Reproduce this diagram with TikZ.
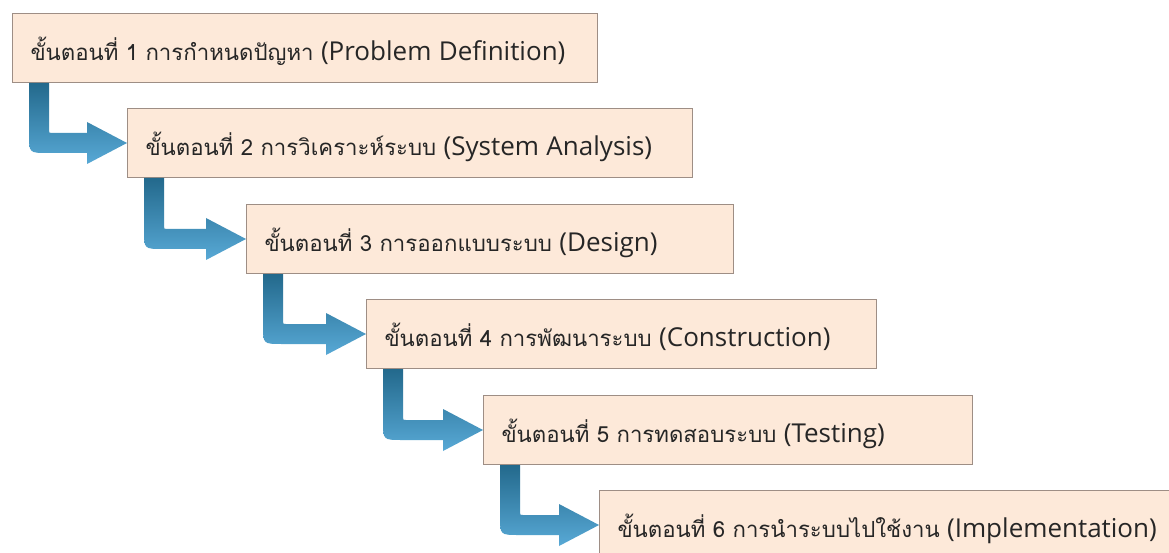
\documentclass[tikz,border=0pt]{standalone}
\usepackage{fontspec}
\setmainfont[Script=Thai]{Loma}
\newfontfamily\latinfont{Open Sans}
\usetikzlibrary{calc}
\definecolor{boxfill}{HTML}{FDE9D9}
\definecolor{boxline}{HTML}{9E8E85}
\definecolor{textcol}{HTML}{262626}
\definecolor{arrowtop}{HTML}{23698C}
\definecolor{arrowbot}{HTML}{58A9D6}
\newcommand{\lat}[1]{{\latinfont\fontsize{26}{30}\selectfont #1}}
\tikzset{
  stepbox/.style={draw=boxline, fill=boxfill, line width=1pt, anchor=north west,
    minimum height=69pt, inner xsep=18pt, inner ysep=0pt, align=left,
    text height=27pt, text depth=2pt, text=textcol,
    font=\fontsize{22.2}{30}\selectfont},
  bentarrow/.style={top color=arrowtop, bottom color=arrowbot, draw=none}
}
\newcommand{\bentarrow}[2]{%
  \path[bentarrow] let \p1=(#1.south west), \p2=(#2.west) in
    (\x1+17pt,\y1) -- (\x1+37pt,\y1) -- (\x1+37pt,\y2+13pt)
    .. controls (\x1+37pt,\y2+10pt) .. (\x1+40pt,\y2+10pt)
    -- (\x2-40pt,\y2+10pt) -- (\x2-40pt,\y2+21pt) -- (\x2,\y2)
    -- (\x2-40pt,\y2-21pt) -- (\x2-40pt,\y2-10pt) -- (\x1+36pt,\y2-10pt)
    .. controls (\x1+17pt,\y2-10pt) .. (\x1+17pt,\y2+9pt) -- cycle;}
\begin{document}
\begin{tikzpicture}[x=1pt,y=-1pt]
\useasboundingbox (0,0) rectangle (1169,553);
\clip (0,0) rectangle (1169,553);
\fill[white] (0,0) rectangle (1169,553);
\node[stepbox, text width=549pt] (s1) at (12,13) {\mbox{ขั้นตอนที่ 1 การกำหนดปัญหา \lat{(Problem Definition)}}};
\node[stepbox, text width=529pt] (s2) at (127,108) {\mbox{ขั้นตอนที่ 2 การวิเคราะห์ระบบ \lat{(System Analysis)}}};
\node[stepbox, text width=451pt] (s3) at (246,204) {\mbox{ขั้นตอนที่ 3 การออกแบบระบบ \lat{(Design)}}};
\node[stepbox, text width=474pt] (s4) at (366,299) {\mbox{ขั้นตอนที่ 4 การพัฒนาระบบ \lat{(Construction)}}};
\node[stepbox, text width=453pt] (s5) at (483,395) {\mbox{ขั้นตอนที่ 5 การทดสอบระบบ \lat{(Testing)}}};
\node[stepbox, text width=570pt] (s6) at (599,490) {\mbox{ขั้นตอนที่ 6 การนำระบบไปใช้งาน \lat{(Implementation)}}};
\bentarrow{s1}{s2}
\bentarrow{s2}{s3}
\bentarrow{s3}{s4}
\bentarrow{s4}{s5}
\bentarrow{s5}{s6}
\end{tikzpicture}
\end{document}
